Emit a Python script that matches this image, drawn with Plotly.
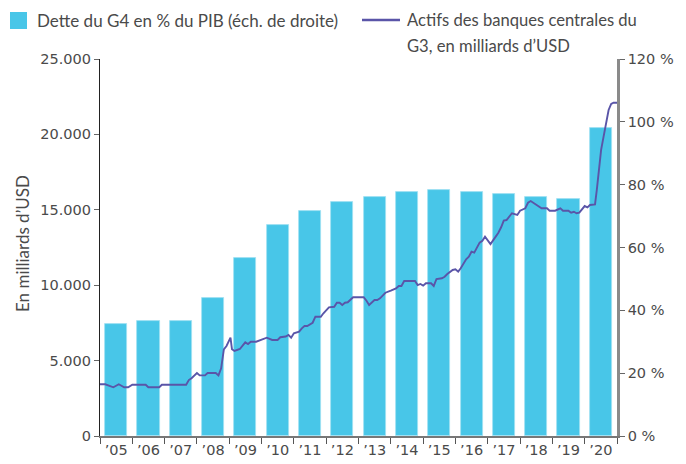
import plotly.graph_objects as go

# ---- data ----
years = list(range(2005, 2021))
year_labels = ["’05", "’06", "’07", "’08", "’09", "’10", "’11", "’12",
               "’13", "’14", "’15", "’16", "’17", "’18", "’19", "’20"]
debt_pct = [35.8, 36.5, 36.5, 43.9, 56.6, 67.2, 71.5, 74.4,
            76.1, 77.6, 78.3, 77.6, 76.9, 76.2, 75.4, 97.9]

assets_dates = [
    "2005-01-01", "2005-03-01", "2005-06-01", "2005-08-01", "2005-10-01", "2005-11-15",
    "2006-01-01", "2006-06-01", "2006-07-01", "2006-11-01", "2006-12-01",
    "2007-09-01", "2007-10-01", "2007-11-01",
    "2008-01-01", "2008-02-01", "2008-04-01", "2008-05-01", "2008-08-01", "2008-09-01",
    "2008-10-01", "2008-11-01", "2008-12-01",
    "2009-01-15", "2009-02-01", "2009-03-01", "2009-05-01", "2009-07-01", "2009-08-01",
    "2009-09-01", "2009-11-01",
    "2010-01-01", "2010-03-01", "2010-05-01", "2010-07-01", "2010-08-01", "2010-10-01",
    "2010-11-01", "2010-12-01",
    "2011-01-01", "2011-03-01", "2011-04-01", "2011-05-01", "2011-06-01", "2011-08-01",
    "2011-09-01", "2011-11-01", "2011-12-01",
    "2012-02-01", "2012-04-01", "2012-05-01", "2012-06-01", "2012-07-01", "2012-08-01",
    "2012-09-01", "2012-11-01",
    "2013-03-01", "2013-04-01", "2013-05-01", "2013-07-01", "2013-08-01", "2013-09-01",
    "2013-11-01",
    "2014-01-01", "2014-03-01", "2014-04-01", "2014-05-01", "2014-06-01", "2014-10-01",
    "2014-11-01", "2014-12-01",
    "2015-01-01", "2015-02-01", "2015-04-01", "2015-05-01", "2015-06-01", "2015-08-01",
    "2015-09-01", "2015-10-01", "2015-12-01",
    "2016-01-01", "2016-02-01", "2016-03-01", "2016-05-01", "2016-06-01", "2016-07-01",
    "2016-08-01", "2016-10-01", "2016-11-01", "2016-12-01",
    "2017-01-01", "2017-02-01", "2017-04-01", "2017-05-01", "2017-06-01", "2017-07-01",
    "2017-08-01", "2017-10-01", "2017-12-01",
    "2018-01-01", "2018-03-01", "2018-04-01", "2018-05-01", "2018-06-01", "2018-08-01",
    "2018-09-01", "2018-11-01", "2018-12-01",
    "2019-02-01", "2019-04-01", "2019-05-01", "2019-07-01", "2019-08-01", "2019-09-01",
    "2019-10-01", "2019-11-01",
    "2020-01-01", "2020-02-01", "2020-03-01", "2020-04-27", "2020-05-17", "2020-06-12",
    "2020-07-05", "2020-08-02", "2020-08-28", "2020-09-28", "2020-10-27", "2020-11-23",
    "2021-01-01",
]
assets_usd_bn = [
    3430, 3430, 3230, 3430, 3230, 3230,
    3400, 3400, 3230, 3230, 3400,
    3400, 3710, 3830,
    4180, 4020, 4020, 4180, 4180, 4020,
    4490, 5750, 5970,
    6520, 5750, 5640, 5770, 6210, 6100,
    6250, 6250,
    6370, 6520, 6370, 6370, 6550, 6600,
    6700, 6520,
    6810, 6920, 7140, 7290, 7290, 7510,
    7910, 7910, 8140,
    8530, 8570, 8840, 8840, 8690, 8840,
    8870, 9200,
    9200, 8970, 8690, 9020, 9020, 9130,
    9500,
    9640, 9790, 9950, 9950, 10280, 10280,
    10010, 10080,
    9970, 10130, 10130, 9950, 10410, 10460,
    10560, 10740, 11010,
    11050, 10900, 11120, 11720, 11890, 12220,
    12160, 12820, 12950, 13220,
    12950, 12730, 13220, 13480, 13840, 14280,
    14320, 14770, 14660,
    14940, 15100, 15470, 15580, 15470, 15250,
    15100, 15100, 14940,
    14940, 15100, 14940, 14940, 14810, 14870,
    14770, 14810,
    15250, 15160, 15320, 15360, 16310, 17640,
    18970, 19850, 20740, 21620, 22020, 22100,
    22100,
]

left_ticks = [0, 5000, 10000, 15000, 20000, 25000]
left_tick_text = ["0", "5.000", "10.000", "15.000", "20.000", "25.000"]
right_ticks = [0, 20, 40, 60, 80, 100, 120]
right_tick_text = ["0 %", "20 %", "40 %", "60 %", "80 %", "100 %", "120 %"]

bar_name = "Dette du G4 en % du PIB (éch. de droite)"
line_name_1 = "Actifs des banques centrales du"
line_name_2 = "G3, en milliards d’USD"


def to_decimal_year(s):
    import datetime as dt
    d = dt.date.fromisoformat(s)
    start = dt.date(d.year, 1, 1)
    days = (dt.date(d.year + 1, 1, 1) - start).days
    return d.year + (d - start).days / days


bar_x = [y + 0.5 for y in years]
line_x = [to_decimal_year(s) for s in assets_dates]

TEXT_FONT = "Lato"
TICK_FONT = "DejaVu Sans"
BAR_COLOR = "#48C6E8"
LINE_COLOR = "#5A55A8"
TXT = "#4a4a4a"

L, R, T, B = 100, 69, 59, 28
W, H = 686, 464
PW, PH = W - L - R, H - T - B


def px_x(x):
    return (x - L) / PW


def px_y(y):
    return (H - B - y) / PH


fig = go.Figure()
fig.add_trace(go.Bar(
    x=bar_x, y=debt_pct, width=0.685, name=bar_name,
    marker=dict(color=BAR_COLOR, line=dict(color="#9FE0F3", width=0.8)),
    yaxis="y", showlegend=False,
))
fig.add_trace(go.Scatter(
    x=line_x, y=assets_usd_bn, mode="lines", name=line_name_1 + " " + line_name_2,
    line=dict(color=LINE_COLOR, width=1.9),
    yaxis="y2", showlegend=False,
))

tickfont = dict(family=TICK_FONT, size=14.5, color=TXT)

fig.update_layout(
    width=W, height=H,
    margin=dict(l=L, r=R, t=T, b=B, autoexpand=False),
    paper_bgcolor="white", plot_bgcolor="white",
    font=dict(family=TEXT_FONT, size=17, color=TXT),
    bargap=0,
    xaxis=dict(
        range=[2005, 2021], showgrid=False, zeroline=False, automargin=False,
        showline=True, linecolor="#777777", linewidth=1.5,
        tickmode="array", tickvals=bar_x, ticktext=year_labels, ticks="",
        tickfont=tickfont,
        minor=dict(tickmode="array", tickvals=list(range(2005, 2022)),
                   ticks="outside", ticklen=6, tickcolor="#555555", tickwidth=1,
                   showgrid=False),
    ),
    yaxis=dict(
        side="right", range=[0, 120], showgrid=False, zeroline=False,
        automargin=False,
        showline=True, linecolor="#8a8a8a", linewidth=2.5,
        tickmode="array", tickvals=right_ticks, ticktext=right_tick_text,
        ticks="outside", ticklen=5, tickcolor="#666666", tickwidth=1,
        tickfont=tickfont,
    ),
    yaxis2=dict(
        overlaying="y", side="left", range=[0, 25000], showgrid=False,
        zeroline=False, automargin=False,
        showline=True, linecolor="#222222", linewidth=1.2,
        tickmode="array", tickvals=left_ticks, ticktext=left_tick_text,
        ticks="outside", ticklen=5, tickcolor="#666666", tickwidth=1,
        tickfont=tickfont,
    ),
)

# y-axis title (left)
fig.add_annotation(xref="paper", yref="paper", x=px_x(22), y=px_y(244),
                   text="En milliards d’USD", textangle=-90, showarrow=False,
                   xanchor="center", yanchor="middle",
                   font=dict(family=TEXT_FONT, size=17, color=TXT))

# ---- legend (drawn in paper coordinates above the plot) ----
fig.add_shape(type="rect", xref="paper", yref="paper",
              x0=px_x(10), x1=px_x(27), y0=px_y(29), y1=px_y(12),
              fillcolor=BAR_COLOR, line=dict(width=0))
fig.add_annotation(xref="paper", yref="paper", x=px_x(35), y=px_y(20),
                   text=bar_name, showarrow=False, xanchor="left", yanchor="middle",
                   font=dict(family=TEXT_FONT, size=17, color=TXT))
fig.add_shape(type="line", xref="paper", yref="paper",
              x0=px_x(362), x1=px_x(400), y0=px_y(20), y1=px_y(20),
              line=dict(color=LINE_COLOR, width=2.5))
fig.add_annotation(xref="paper", yref="paper", x=px_x(405), y=px_y(20),
                   text=line_name_1, showarrow=False,
                   xanchor="left", yanchor="middle",
                   font=dict(family=TEXT_FONT, size=16.6, color=TXT))
fig.add_annotation(xref="paper", yref="paper", x=px_x(405), y=px_y(46),
                   text=line_name_2, showarrow=False,
                   xanchor="left", yanchor="middle",
                   font=dict(family=TEXT_FONT, size=16.6, color=TXT))

fig.write_html("out.html", config={"displayModeBar": False},
               post_script="document.body.style.margin='0px';")
